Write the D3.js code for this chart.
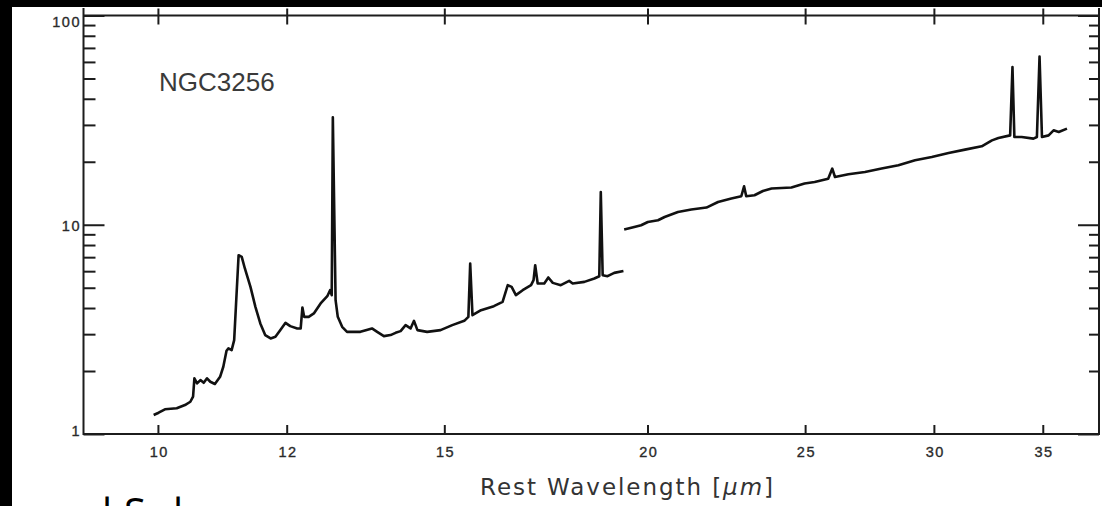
<!DOCTYPE html>
<html>
<head>
<meta charset="utf-8">
<script src="https://cdn.jsdelivr.net/npm/d3@7"></script>
<style>
  html, body { margin: 0; padding: 0; background: #000; }
  svg { display: block; }
</style>
</head>
<body>
<svg width="1102" height="506"></svg>
<script>
// short-low segment (SL), wavelength in micron / flux
const slWave = [9.94, 10.01, 10.10, 10.27, 10.39, 10.47, 10.51, 10.53, 10.57, 10.62,
  10.67, 10.72, 10.77, 10.84, 10.92, 10.97, 11.02, 11.05, 11.10, 11.14,
  11.17, 11.21, 11.26, 11.31, 11.40, 11.48, 11.56, 11.64, 11.73, 11.81,
  11.89, 11.98, 12.06, 12.18, 12.24, 12.27, 12.30, 12.38, 12.47, 12.59,
  12.71, 12.76, 12.79, 12.81, 12.86, 12.90, 12.98, 13.07, 13.32, 13.54,
  13.64, 13.77, 13.90, 14.00, 14.10, 14.20, 14.30, 14.37, 14.44, 14.64,
  14.92, 15.17, 15.43, 15.52, 15.56, 15.61, 15.80, 16.09, 16.29, 16.41,
  16.50, 16.60, 16.76, 16.96, 17.02, 17.06, 17.12, 17.28, 17.38, 17.49,
  17.69, 17.90, 17.99, 18.29, 18.55, 18.68, 18.72, 18.77, 18.90, 19.08, 19.33];
const slFlux = [1.232, 1.264, 1.312, 1.327, 1.375, 1.426, 1.507, 1.845, 1.746, 1.810,
  1.757, 1.845, 1.777, 1.733, 1.877, 2.096, 2.498, 2.565, 2.518, 2.810,
  4.206, 7.152, 7.020, 6.18, 5.048, 4.053, 3.376, 2.970, 2.862, 2.913,
  3.136, 3.398, 3.277, 3.195, 3.195, 4.026, 3.630, 3.630, 3.768, 4.206,
  4.557, 4.868, 4.608, 32.6, 4.362, 3.630, 3.252, 3.077, 3.077, 3.195,
  3.077, 2.937, 2.970, 3.044, 3.102, 3.313, 3.195, 3.474, 3.136, 3.077,
  3.136, 3.313, 3.474, 3.630, 6.53, 3.698, 3.907, 4.083, 4.280, 5.143,
  5.048, 4.608, 4.868, 5.143, 5.435, 6.408, 5.241, 5.241, 5.598, 5.275,
  5.143, 5.393, 5.241, 5.333, 5.535, 5.677, 14.35, 5.741, 5.677, 5.888, 6.018];

// long-low segment (LL)
const llWave = [19.35, 19.63, 19.82, 20.01, 20.30, 20.49, 20.88, 21.28, 21.74, 22.10,
  22.52, 22.84, 22.93, 23.00, 23.27, 23.55, 23.84, 24.52, 24.98, 25.34,
  25.83, 25.98, 26.08, 26.58, 27.21, 27.86, 28.53, 29.21, 29.91, 30.63,
  31.35, 32.10, 32.57, 32.87, 33.42, 33.53, 33.62, 33.97, 34.54, 34.71,
  34.84, 34.96, 35.29, 35.54, 35.80, 36.22];
const llFlux = [9.486, 9.761, 9.945, 10.31, 10.51, 10.89, 11.51, 11.82, 12.08, 12.85,
  13.34, 13.68, 15.27, 13.68, 13.83, 14.50, 14.89, 15.06, 15.73, 16.01,
  16.61, 18.55, 16.91, 17.42, 17.87, 18.55, 19.23, 20.32, 21.07, 22.02,
  22.86, 23.70, 25.31, 25.96, 26.74, 56.65, 26.25, 26.25, 25.79, 26.25,
  63.74, 26.25, 26.74, 28.26, 27.73, 28.79];

const xTicks = [10, 12, 15, 20, 25, 30, 35];
const yMajor = [1, 10, 100];
const objectName = "NGC3256";
const xTitle = "Rest Wavelength [";
const xUnit = "\u03bcm";

const svg = d3.select("svg");
const plotLeft = 83.5, plotRight = 1099, plotTop = 15.5, plotBottom = 434;
const ink = "#1c1c1c";

// page background (slide edge is black on top/left)
svg.append("rect").attr("x", 12).attr("y", 7).attr("width", 1090).attr("height", 499).attr("fill", "#fff");

const x = d3.scaleLog().domain([9, 37.9]).range([plotLeft, plotRight]);
const y = d3.scaleLog().domain([1, 100]).range([plotBottom, plotTop]);

const yMinor = y.ticks(10).filter(d => !yMajor.includes(d));
const tickFont = "'Liberation Sans', Arial, sans-serif";

function styleAxis(g) {
  g.select(".domain").remove();
  g.selectAll("line").attr("stroke", ink).attr("stroke-width", 2);
  g.selectAll("text")
    .attr("font-family", tickFont)
    .attr("font-size", 14.5)
    .attr("fill", "#2a2a2a")
    .attr("stroke", "#2a2a2a")
    .attr("stroke-width", 0.35)
    .attr("letter-spacing", "1.5px");
}

// bottom axis
svg.append("g")
  .attr("transform", `translate(0,${plotBottom})`)
  .call(d3.axisBottom(x).tickValues(xTicks).tickSize(-9).tickPadding(13).tickFormat(d3.format("d")))
  .call(styleAxis)
  .selectAll("text").attr("dx", "0.8px");

// top axis, ticks cross the frame
svg.append("g")
  .attr("transform", `translate(0,${plotTop})`)
  .call(d3.axisTop(x).tickValues(xTicks).tickSize(6).tickFormat(""))
  .call(styleAxis)
  .selectAll("line").attr("y1", 9).attr("y2", -7);

// left axis
svg.append("g")
  .attr("transform", `translate(${plotLeft},0)`)
  .call(d3.axisLeft(y).tickValues(yMinor).tickSize(-12).tickFormat(""))
  .call(styleAxis);
svg.append("g")
  .attr("transform", `translate(${plotLeft},0)`)
  .call(d3.axisLeft(y).tickValues(yMajor).tickSize(-21).tickPadding(4).tickFormat(d3.format("d")))
  .call(styleAxis)
  .call(g => g.selectAll(".tick text")
    .attr("dx", "1.5px")
    .attr("dy", d => d === 100 ? "0.78em" : d === 1 ? "0.1em" : "0.4em"));

// right axis
svg.append("g")
  .attr("transform", `translate(${plotRight},0)`)
  .call(d3.axisRight(y).tickValues(yMinor).tickSize(-10).tickFormat(""))
  .call(styleAxis);
svg.append("g")
  .attr("transform", `translate(${plotRight},0)`)
  .call(d3.axisRight(y).tickValues(yMajor).tickSize(-21).tickFormat(""))
  .call(styleAxis);

// frame
const frame = svg.append("g").attr("stroke", ink).attr("stroke-width", 2).attr("fill", "none");
frame.append("line").attr("x1", plotLeft).attr("x2", plotRight).attr("y1", plotTop).attr("y2", plotTop);
frame.append("line").attr("x1", plotLeft).attr("x2", plotRight).attr("y1", plotBottom).attr("y2", plotBottom);
frame.append("line").attr("x1", plotLeft).attr("x2", plotLeft).attr("y1", 8).attr("y2", plotBottom + 1);
frame.append("line").attr("x1", plotRight).attr("x2", plotRight).attr("y1", 8).attr("y2", plotBottom + 1);

// spectrum
const line = d3.line().x(d => x(d[0])).y(d => y(d[1]));
const segments = [d3.zip(slWave, slFlux), d3.zip(llWave, llFlux)];
svg.append("g").selectAll("path")
  .data(segments)
  .join("path")
  .attr("d", line)
  .attr("fill", "none")
  .attr("stroke", "#111")
  .attr("stroke-width", 2.6)
  .attr("stroke-linejoin", "round");

// object label
svg.append("text")
  .attr("x", 159).attr("y", 90.5)
  .attr("font-family", tickFont)
  .attr("font-size", 26)
  .attr("fill", "#3a3a3a")
  .text(objectName);

// x axis title
const title = svg.append("text")
  .attr("x", 480).attr("y", 495)
  .attr("font-family", "'DejaVu Sans', sans-serif")
  .attr("font-size", 23)
  .attr("fill", "#333")
  .attr("textLength", 293)
  .attr("lengthAdjust", "spacing");
title.append("tspan").text(xTitle);
title.append("tspan").attr("font-style", "italic").text(xUnit);
title.append("tspan").text("]");

// cut-off slide text at the bottom edge
svg.append("g")
  .attr("font-family", "'Open Sans', 'Liberation Sans', sans-serif")
  .attr("font-size", 40)
  .attr("fill", "#000")
  .selectAll("text")
  .data([["l", 102], ["S", 124], ["l", 173]])
  .join("text")
  .attr("x", d => d[1]).attr("y", 527)
  .text(d => d[0]);
</script>
</body>
</html>
